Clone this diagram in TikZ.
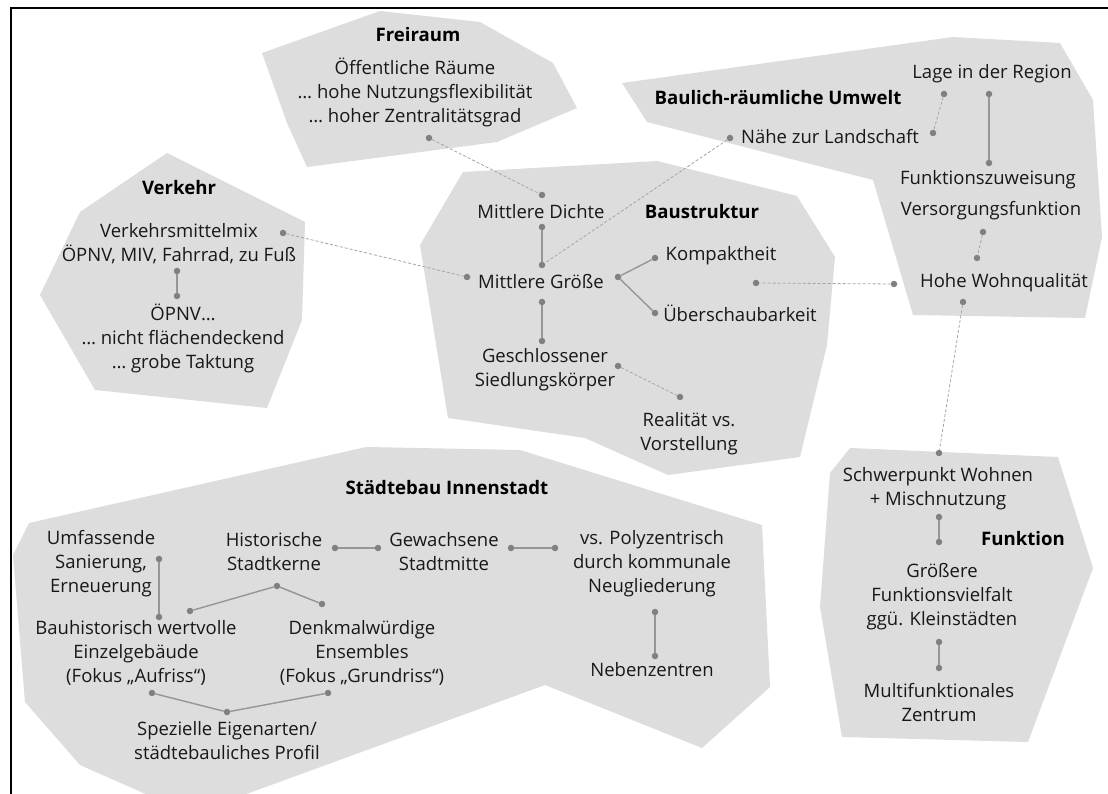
\documentclass[tikz,border=0pt]{standalone}
\usepackage{fontspec}
\setmainfont{Open Sans}

\definecolor{areafill}{RGB}{221,221,221}
\definecolor{dotgray}{RGB}{128,128,128}
\definecolor{linkgray}{RGB}{150,150,150}
\definecolor{dashgray}{RGB}{165,165,165}
\definecolor{textdark}{RGB}{24,24,24}

\tikzset{
  area/.style={fill=areafill, draw=none},
  label/.style={inner sep=0pt, align=center, text=textdark,
    font=\fontsize{18.5}{24}\selectfont},
  heading/.style={inner sep=0pt, align=center, text=black,
    font=\fontsize{18.6}{24}\selectfont\bfseries},
  pin/.style={circle, fill=dotgray, draw=none, inner sep=0pt, minimum size=6.5pt},
  link/.style={draw=linkgray, line width=1.4pt},
  dlink/.style={draw=dashgray, line width=0.8pt, dash pattern=on 3pt off 2pt},
  frame/.style={draw=black, line width=2pt}
}

\begin{document}
\begin{tikzpicture}[x=1pt, y=-1pt]
\useasboundingbox[fill=white] (0,0) rectangle (1108,794);

% frame lines
\draw[frame] (11,794) -- (11,8) -- (1108,8);

% ---------- areas ----------
\fill[area] (380,11) -- (480,22) -- (553,63) -- (577,108) -- (497,142)
  -- (307,167) -- (287,123) -- (262,53) -- cycle;
\fill[area] (622,83) -- (953,37) -- (1060,43) -- (1093,100) -- (1102,237)
  -- (1085,318) -- (913,315) -- (873,180) -- (647,122) -- cycle;
\fill[area] (167,153) -- (305,222) -- (302,320) -- (267,408) -- (95,390)
  -- (40,295) -- (80,212) -- cycle;
\fill[area] (463,172) -- (657,161) -- (797,196) -- (835,257) -- (827,345)
  -- (800,457) -- (668,475) -- (585,438) -- (448,418) -- (420,245) -- cycle;
\fill[area] (366,447) -- (520,450) -- (762,525) -- (770,687) -- (702,748)
  -- (545,685) -- (241,796) -- (150,796) -- (80,765) -- (25,702)
  -- (13,555) -- (29,523) -- cycle;
\fill[area] (850,448) -- (1058,457) -- (1093,568) -- (1028,742) -- (842,737)
  -- (820,607) -- (830,473) -- cycle;

% ---------- Freiraum ----------
\node[heading] (tFrei) at (418,35) {Freiraum};
\node[label] (tFreiText) at (415,92) {Öffentliche Räume\\… hohe Nutzungsflexibilität\\… hoher Zentralitätsgrad};
\node[pin] (dFrei) at (429,138) {};

% ---------- Baulich-räumliche Umwelt ----------
\node[heading] (tBau) at (778,98) {Baulich-räumliche Umwelt};
\node[label] (tLage) at (992,74) {Lage in der Region};
\node[label] (tNaehe) at (830,137) {Nähe zur Landschaft};
\node[label] (tFunkz) at (988,180) {Funktionszuweisung};
\node[label] (tVers) at (991,211) {Versorgungsfunktion};
\node[label] (tHohe) at (1004,283) {Hohe Wohnqualität};
\node[pin] (dNaeheL) at (730,138) {};
\node[pin] (dNaeheR) at (933,133) {};
\node[pin] (dLageL) at (944,94) {};
\node[pin] (dLageR) at (989,94) {};
\node[pin] (dFunkz) at (989,163) {};
\node[pin] (dVers) at (983,232) {};
\node[pin] (dHoheT) at (977,258) {};
\node[pin] (dHoheL) at (894,284) {};
\node[pin] (dHoheB) at (963,302) {};

% ---------- Verkehr ----------
\node[heading] (tVerk) at (179,188) {Verkehr};
\node[label] (tVmix) at (179,244) {Verkehrsmittelmix\\ÖPNV, MIV, Fahrrad, zu Fuß};
\node[label] (tOepnv) at (183,338) {ÖPNV…\\… nicht flächendeckend\\… grobe Taktung};
\node[pin] (dVmixR) at (283,233) {};
\node[pin] (dVmixB) at (177,271) {};
\node[pin] (dOepT) at (177,296) {};

% ---------- Baustruktur ----------
\node[heading] (tBaus) at (702,212) {Baustruktur};
\node[label] (tDichte) at (541,212) {Mittlere Dichte};
\node[label] (tGroesse) at (541,282) {Mittlere Größe};
\node[label] (tKomp) at (721,256) {Kompaktheit};
\node[label] (tUeber) at (740,313) {Überschaubarkeit};
\node[label] (tGeschl) at (545,370) {Geschlossener\\Siedlungskörper};
\node[label] (tReal) at (689,434) {Realität vs.\\Vorstellung};
\node[pin] (dDichteT) at (542,195) {};
\node[pin] (dDichteB) at (542,227) {};
\node[pin] (dGroT) at (542,265) {};
\node[pin] (dGroL) at (467,277) {};
\node[pin] (dGroR) at (618,277) {};
\node[pin] (dGroB) at (542,302) {};
\node[pin] (dGeschlT) at (542,341) {};
\node[pin] (dGeschlR) at (618,366) {};
\node[pin] (dRealT) at (680,397) {};
\node[pin] (dKomp) at (655,258) {};
\node[pin] (dUeber) at (655,313) {};
\node[pin] (dBausR) at (756,283) {};

% ---------- Städtebau Innenstadt ----------
\node[heading] (tStadt) at (447,488) {Städtebau Innenstadt};
\node[label] (tUmf) at (101,564) {Umfassende\\Sanierung,\\Erneuerung};
\node[label] (tHist) at (274,552) {Historische\\Stadtkerne};
\node[label] (tGew) at (444,552) {Gewachsene\\Stadtmitte};
\node[label] (tPoly) at (652,564) {vs. Polyzentrisch\\durch kommunale\\Neugliederung};
\node[label] (tNeben) at (652,670) {Nebenzentren};
\node[label] (tBauh) at (136,653) {Bauhistorisch wertvolle\\Einzelgebäude\\(Fokus „Aufriss“)};
\node[label] (tDenk) at (362,653) {Denkmalwürdige\\Ensembles\\(Fokus „Grundriss“)};
\node[label] (tSpez) at (227,741) {Spezielle Eigenarten/\\städtebauliches Profil};
\node[pin] (dUmf) at (159,559) {};
\node[pin] (dBauhT) at (159,617) {};
\node[pin] (dHistR) at (335,548) {};
\node[pin] (dGewL) at (378,548) {};
\node[pin] (dGewR) at (511,548) {};
\node[pin] (dPolyL) at (555,548) {};
\node[pin] (dPolyB) at (655,612) {};
\node[pin] (dNebT) at (655,656) {};
\node[pin] (dHistB) at (277,586) {};
\node[pin] (dBauhR) at (190,611) {};
\node[pin] (dDenkT) at (322,604) {};
\node[pin] (dBauhB) at (152,693) {};
\node[pin] (dSpezT) at (227,712) {};
\node[pin] (dDenkB) at (328,693) {};

% ---------- Funktion ----------
\node[heading] (tFunk) at (1023,539) {Funktion};
\node[label] (tSchw) at (938,489) {Schwerpunkt Wohnen\\+ Mischnutzung};
\node[label] (tGroe) at (942,597) {Größere\\Funktionsvielfalt\\ggü. Kleinstädten};
\node[label] (tMulti) at (939,703) {Multifunktionales\\Zentrum};
\node[pin] (dSchwT) at (939,453) {};
\node[pin] (dSchwB) at (939,517) {};
\node[pin] (dGroeT) at (939,542) {};
\node[pin] (dGroeB) at (939,642) {};
\node[pin] (dMultiT) at (939,668) {};

% ---------- connectors ----------
\draw[dlink] (dFrei) -- (dDichteT);
\draw[dlink] (dNaeheL) -- (dGroT);
\draw[dlink] (dLageL) -- (dNaeheR);
\draw[link] (dLageR) -- (dFunkz);
\draw[dlink] (dVers) -- (dHoheT);
\draw[dlink] (dHoheL) -- (dBausR);
\draw[dlink] (dHoheB) -- (dSchwT);
\draw[dlink] (dVmixR) -- (dGroL);
\draw[link] (dVmixB) -- (dOepT);
\draw[link] (dDichteB) -- (dGroT);
\draw[link] (dGroR) -- (dKomp);
\draw[link] (dGroR) -- (dUeber);
\draw[link] (dGroB) -- (dGeschlT);
\draw[dlink] (dGeschlR) -- (dRealT);
\draw[link] (dUmf) -- (dBauhT);
\draw[link] (dHistR) -- (dGewL);
\draw[link] (dGewR) -- (dPolyL);
\draw[link] (dPolyB) -- (dNebT);
\draw[link] (dHistB) -- (dBauhR);
\draw[link] (dHistB) -- (dDenkT);
\draw[link] (dBauhB) -- (dSpezT);
\draw[link] (dSpezT) -- (dDenkB);
\draw[link] (dSchwB) -- (dGroeT);
\draw[link] (dGroeB) -- (dMultiT);
\end{tikzpicture}
\end{document}
